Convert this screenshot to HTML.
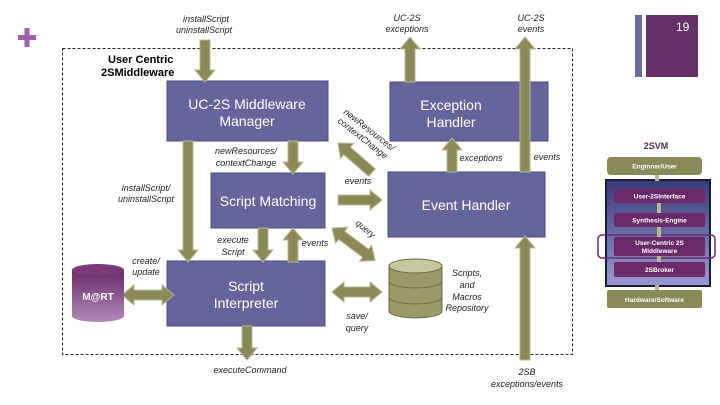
<!DOCTYPE html>
<html><head><meta charset="utf-8"><style>
html,body{margin:0;padding:0;background:#fff;}
svg{display:block;font-family:"Liberation Sans",sans-serif;}
.l{font-size:9px;font-style:italic;fill:#222;}
.b{font-size:14px;fill:#fff;}
.a{fill:#8a8a58;stroke:#b8b890;stroke-width:1;}
.s{font-size:6.5px;fill:#fff;font-weight:bold;text-anchor:middle;}
</style></head><body>
<svg width="720" height="405" viewBox="0 0 720 405">
<defs>
<linearGradient id="mart" x1="0" y1="0" x2="0" y2="1"><stop offset="0" stop-color="#6a2a6a"/><stop offset="1" stop-color="#b08ab8"/></linearGradient>
<linearGradient id="pan" x1="0" y1="0" x2="0" y2="1"><stop offset="0" stop-color="#3a3a78"/><stop offset="1" stop-color="#9a9ad0"/></linearGradient>
</defs>
<!-- plus -->
<rect x="18" y="35" width="18" height="5" fill="#a060b0"/><rect x="24.5" y="28" width="5" height="19" fill="#a060b0"/>
<!-- slide number -->
<rect x="635" y="15" width="7" height="62" fill="#6a6a9a"/>
<rect x="646" y="15" width="52" height="62" fill="#66306a"/>
<text x="676" y="31" font-size="12" fill="#fff">19</text>
<!-- dashed border -->
<rect x="62.5" y="48.5" width="510" height="306" fill="none" stroke="#222" stroke-dasharray="3,2" stroke-width="1"/>
<text x="108" y="63" font-size="11" font-weight="bold">User Centric</text>
<text x="101" y="76" font-size="11" font-weight="bold">2SMiddleware</text>
<!-- boxes -->
<g fill="#65659c" stroke="#4a4a80">
<rect x="167" y="81" width="161" height="60"/>
<rect x="390" y="82" width="158" height="59"/>
<rect x="211" y="173" width="114" height="55"/>
<rect x="388" y="172" width="157" height="65"/>
<rect x="167" y="261" width="158" height="65"/>
</g>
<g class="b" text-anchor="middle">
<text x="247" y="109">UC-2S Middleware</text><text x="247" y="126">Manager</text>
<text x="451" y="110">Exception</text><text x="451" y="127">Handler</text>
<text x="268" y="206">Script Matching</text>
<text x="466" y="210">Event Handler</text>
<text x="246" y="291">Script</text><text x="246" y="308">Interpreter</text>
</g>
<!-- arrows -->
<g class="a">
<polygon transform="translate(205,82) rotate(180)" points="0,0 10,12 5,12 5,42 -5,42 -5,12 -10,12"/>
<polygon transform="translate(188,262) rotate(180)" points="0,0 10,12 5,12 5,121 -5,121 -5,12 -10,12"/>
<polygon transform="translate(293,174) rotate(180)" points="0,0 10,12 5,12 5,33 -5,33 -5,12 -10,12"/>
<polygon transform="translate(410,37)" points="0,0 10,12 5,12 5,45 -5,45 -5,12 -10,12"/>
<polygon transform="translate(525,37)" points="0,0 10,12 5,12 5,135 -5,135 -5,12 -10,12"/>
<polygon transform="translate(452,138)" points="0,0 10,12 5,12 5,34 -5,34 -5,12 -10,12"/>
<polygon transform="translate(338,143) rotate(-49)" points="0,0 10,12 5,12 5,45 -5,45 -5,12 -10,12"/>
<polygon transform="translate(382,200) rotate(90)" points="0,0 10,12 5,12 5,44 -5,44 -5,12 -10,12"/>
<polygon transform="translate(332,228) rotate(-53)" points="0,0 10,12 5,12 5,42 10,42 0,54 -10,42 -5,42 -5,12 -10,12"/>
<polygon transform="translate(332,292) rotate(-90)" points="0,0 10,12 5,12 5,38 10,38 0,50 -10,38 -5,38 -5,12 -10,12"/>
<polygon transform="translate(263,262) rotate(180)" points="0,0 10,12 5,12 5,34 -5,34 -5,12 -10,12"/>
<polygon transform="translate(293,228)" points="0,0 10,12 5,12 5,34 -5,34 -5,12 -10,12"/>
<polygon transform="translate(122,295) rotate(-90)" points="0,0 10,12 5,12 5,40 10,40 0,52 -10,40 -5,40 -5,12 -10,12"/>
<polygon transform="translate(247,360) rotate(180)" points="0,0 10,12 5,12 5,34 -5,34 -5,12 -10,12"/>
<polygon transform="translate(525,236)" points="0,0 10,12 5,12 5,124 -5,124 -5,12 -10,12"/>
</g>
<!-- M@RT cylinder -->
<path d="M72,270 L72,316 A26,6 0 0 0 124,316 L124,270 Z" fill="url(#mart)"/>
<ellipse cx="98" cy="270" rx="26" ry="6" fill="#7a3a7a"/>
<text x="98" y="300" font-size="10" font-weight="bold" fill="#fff" text-anchor="middle">M@RT</text>
<!-- repository -->
<path d="M389,266 L389,311 A26.5,7 0 0 0 442,311 L442,266 Z" fill="#9a9a68" stroke="#6a6a40"/>
<path d="M389,281 A26.5,7 0 0 0 442,281 M389,297 A26.5,7 0 0 0 442,297" fill="none" stroke="#6a6a40"/>
<ellipse cx="415.5" cy="266" rx="26.5" ry="7" fill="#c8c8a0" stroke="#6a6a40"/>
<!-- labels -->
<g class="l" text-anchor="middle">
<text x="206" y="22">installScript</text><text x="204" y="33">uninstallScript</text>
<text x="407" y="21">UC-2S</text><text x="407" y="32">exceptions</text>
<text x="531" y="21">UC-2S</text><text x="531" y="32">events</text>
<text x="246" y="154">newResources/</text><text x="246" y="166">contextChange</text>
<text x="146" y="191">installScript/</text><text x="146" y="202">uninstallScript</text>
<text x="481" y="161">exceptions</text>
<text x="547" y="160">events</text>
<text x="358" y="184">events</text>
<text x="233" y="243">execute</text><text x="233" y="255">Script</text>
<text x="315" y="246">events</text>
<text x="146" y="264">create/</text><text x="146" y="275">update</text>
<text x="357" y="319">save/</text><text x="357" y="331">query</text>
<text x="467" y="276">Scripts,</text><text x="467" y="288">and</text><text x="467" y="300">Macros</text><text x="467" y="311">Repository</text>
<text x="250" y="373">executeCommand</text>
<text x="527" y="375">2SB</text><text x="527" y="387">exceptions/events</text>
</g>
<text class="l" transform="translate(343,113) rotate(38)">newResources/</text>
<text class="l" transform="translate(337,122) rotate(38)">contextChange</text>
<text class="l" transform="translate(355,224) rotate(40)">query</text>
<!-- 2SVM panel -->
<text x="656" y="149" font-size="9" font-weight="bold" fill="#5a2a5a" text-anchor="middle">2SVM</text>
<rect x="607" y="157" width="95" height="18" rx="4" fill="#8a8a58"/>
<text class="s" x="654.5" y="168.5">Enginner/User</text>
<rect x="606" y="180" width="104" height="106" fill="url(#pan)" stroke="#1a1a40" stroke-width="2"/>
<g fill="#6a2a6a">
<rect x="614" y="189" width="91" height="14" rx="2"/>
<rect x="614" y="213" width="91" height="14" rx="2"/>
<rect x="614" y="237" width="91" height="19" rx="2"/>
<rect x="614" y="262" width="91" height="15" rx="2"/>
</g>
<rect x="598" y="235" width="117" height="23" rx="4" fill="none" stroke="#6a2a6a" stroke-width="1.5"/>
<g fill="#b8b890">
<rect x="655" y="175" width="4" height="6"/><rect x="657" y="203" width="4" height="10"/><rect x="657" y="227" width="4" height="10"/><rect x="657" y="256" width="4" height="6"/><rect x="655" y="285" width="4" height="6"/>
</g>
<text class="s" x="659.5" y="198.5">User-2SInterface</text>
<text class="s" x="659.5" y="222.5">Synthesis-Engine</text>
<text class="s" x="659.5" y="245" font-size="5.5">User-Centric 2S</text>
<text class="s" x="659.5" y="253" font-size="5.5">Middleware</text>
<text class="s" x="659.5" y="272">2SBroker</text>
<rect x="607" y="290" width="95" height="18" rx="2" fill="#8a8a58"/>
<text class="s" x="654.5" y="302">Hardware/Software</text>
</svg>
</body></html>
